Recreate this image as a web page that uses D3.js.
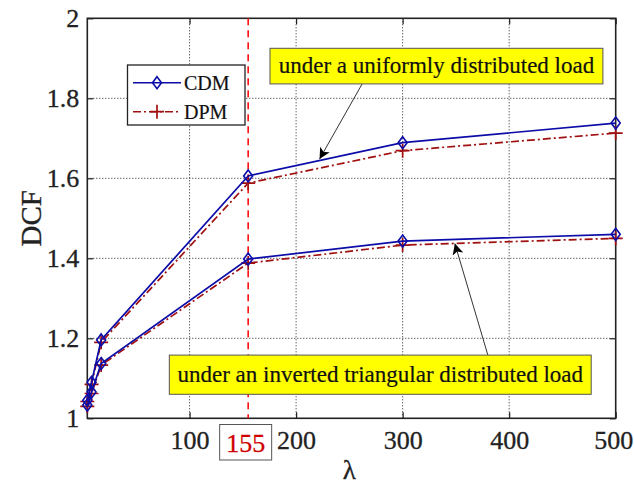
<!DOCTYPE html>
<html><head><meta charset="utf-8">
<script src="https://cdn.jsdelivr.net/npm/d3@7"></script>
<style>body{margin:0;background:#fff}svg{display:block}text{font-family:"Liberation Serif","Times New Roman",serif}</style>
</head><body><svg id="c" width="634" height="487"></svg>
<script>
const lambdas = [4, 8, 17, 155, 300, 500];
const cdmUniform = [1.045, 1.09, 1.196, 1.606, 1.689, 1.738];
const dpmUniform = [1.042, 1.085, 1.19, 1.588, 1.669, 1.713];
const cdmTriangular = [1.033, 1.066, 1.137, 1.398, 1.443, 1.46];
const dpmTriangular = [1.03, 1.062, 1.133, 1.388, 1.433, 1.45];
const xTicks = [100, 200, 300, 400, 500];
const yTicks = [1, 1.2, 1.4, 1.6, 1.8, 2];
const markLambda = 155;
const seriesNames = ["CDM", "DPM"];
const noteTexts = ["under a uniformly distributed load", "under an inverted triangular distributed load"];

const svg = d3.select("#c");
const L = 87.3, R = 615.7, T = 18.3, B = 418.3;
const x = d3.scaleLinear().domain([4, 500]).range([L, R]);
const y = d3.scaleLinear().domain([1, 2]).range([B, T]);
const blue = "#0c0ca8", red = "#a01010";

// grid
svg.append("g").selectAll("line").data(xTicks.filter(d => d < 500)).join("line")
  .attr("x1", d => x(d)).attr("x2", d => x(d)).attr("y1", T).attr("y2", B)
  .attr("stroke", "#222").attr("stroke-width", 1).attr("stroke-dasharray", "1,2");
svg.append("g").selectAll("line").data(yTicks.filter(d => d > 1 && d < 2)).join("line")
  .attr("x1", L).attr("x2", R).attr("y1", d => y(d)).attr("y2", d => y(d))
  .attr("stroke", "#222").attr("stroke-width", 1).attr("stroke-dasharray", "1,2");

// axes
const xa = svg.append("g").attr("transform", `translate(0,${B})`)
  .call(d3.axisBottom(x).tickValues(xTicks).tickSize(-6).tickPadding(14).tickFormat(d3.format("d")));
const xa2 = svg.append("g").attr("transform", `translate(0,${T})`)
  .call(d3.axisTop(x).tickValues(xTicks).tickSize(-6).tickFormat(""));
const ya = svg.append("g").attr("transform", `translate(${L},0)`)
  .call(d3.axisLeft(y).tickValues(yTicks).tickSize(-6).tickPadding(8).tickFormat(d => d3.format("")(d)));
const ya2 = svg.append("g").attr("transform", `translate(${R},0)`)
  .call(d3.axisRight(y).tickValues(yTicks).tickSize(-6).tickFormat(""));
[xa, xa2, ya, ya2].forEach(g => {
  g.attr("font-family", null).attr("font-size", null);
  g.select(".domain").remove();
  g.selectAll("line").attr("stroke", "#222").attr("stroke-width", 1.2);
  g.selectAll("text").attr("font-size", 26).attr("fill", "#222")
    .attr("stroke", "#222").attr("stroke-width", 0.3);
});
xa.selectAll("text").attr("dy", "0.65em");
xa.selectAll(".tick").filter(d => d === 500).select("text").attr("text-anchor", "end").attr("x", 17);
svg.append("rect").attr("x", L).attr("y", T).attr("width", R - L).attr("height", B - T)
  .attr("fill", "none").attr("stroke", "#222").attr("stroke-width", 1.6);

// red dashed marker line
svg.append("line").attr("x1", x(markLambda)).attr("x2", x(markLambda)).attr("y1", T).attr("y2", B)
  .attr("stroke", "#ff1010").attr("stroke-width", 1.6).attr("stroke-dasharray", "7,5");
// 155 label in box
const lb = svg.append("g");
lb.append("rect").attr("x", x(markLambda) - 28.5).attr("y", 424.5).attr("width", 52).attr("height", 35.5)
  .attr("fill", "#fff").attr("stroke", "#555").attr("stroke-width", 1);
lb.append("text").attr("x", x(markLambda) - 2.5).attr("y", 452).attr("text-anchor", "middle")
  .attr("font-size", 26).attr("fill", "#d00000").attr("stroke", "#d00000").attr("stroke-width", 0.3).text(markLambda);

// axis labels
svg.append("text").attr("x", x(250)).attr("y", 479).attr("text-anchor", "middle")
  .attr("font-size", 27).attr("fill", "#222").attr("stroke", "#222").attr("stroke-width", 0.3).text("λ");
svg.append("text").attr("transform", `translate(41,${y(1.5)}) rotate(-90)`).attr("text-anchor", "middle")
  .attr("font-size", 29).attr("fill", "#222").attr("stroke", "#222").attr("stroke-width", 0.3).text("DCF");

// series
const line = d3.line().x((d, i) => x(lambdas[i])).y(d => y(d));
function drawSeries(vals, color, dash, marker) {
  svg.append("path").datum(vals).attr("d", line).attr("fill", "none")
    .attr("stroke", color).attr("stroke-width", 1.7).attr("stroke-dasharray", dash);
  const g = svg.append("g");
  vals.forEach((v, i) => drawMarker(g, x(lambdas[i]), y(v), color, marker));
}
function drawMarker(g, cx, cy, color, marker) {
  if (marker === "diamond") {
    g.append("path").attr("d", `M${cx},${cy - 6}L${cx + 4.5},${cy}L${cx},${cy + 6}L${cx - 4.5},${cy}Z`)
      .attr("fill", "none").attr("stroke", color).attr("stroke-width", 1.6);
  } else {
    g.append("path").attr("d", `M${cx - 7},${cy}H${cx + 7}M${cx},${cy - 7}V${cy + 7}`)
      .attr("fill", "none").attr("stroke", color).attr("stroke-width", 1.7);
  }
}
drawSeries(dpmUniform, red, "8,3,2,3", "plus");
drawSeries(dpmTriangular, red, "8,3,2,3", "plus");
drawSeries(cdmUniform, blue, null, "diamond");
drawSeries(cdmTriangular, blue, null, "diamond");

// legend
const lg = svg.append("g");
lg.append("rect").attr("x", 127.5).attr("y", 65).attr("width", 117.5).attr("height", 60)
  .attr("fill", "#fff").attr("stroke", "#222").attr("stroke-width", 1.3);
[[blue, null, "diamond", 82.7], [red, "8,3,2,3", "plus", 111.7]].forEach((s, i) => {
  lg.append("line").attr("x1", 133).attr("x2", 181).attr("y1", s[3]).attr("y2", s[3])
    .attr("stroke", s[0]).attr("stroke-width", 1.6).attr("stroke-dasharray", s[1]);
  drawMarker(lg, 157, s[3], s[0], s[2]);
  lg.append("text").attr("x", 184).attr("y", s[3] + 7).attr("font-size", 20).attr("fill", "#111")
    .attr("stroke", "#111").attr("stroke-width", 0.2).text(seriesNames[i]);
});

// annotations
const defs = svg.append("defs");
defs.append("marker").attr("id", "ah").attr("viewBox", "0 0 10 10").attr("refX", 10).attr("refY", 5)
  .attr("markerWidth", 13).attr("markerHeight", 11).attr("markerUnits", "userSpaceOnUse").attr("orient", "auto")
  .append("path").attr("d", "M0,0L10,5L0,10L2.5,5Z").attr("fill", "#000");
function arrow(x1, y1, x2, y2) {
  svg.append("line").attr("x1", x(x1)).attr("y1", y(y1)).attr("x2", x(x2)).attr("y2", y(y2))
    .attr("stroke", "#333").attr("stroke-width", 1).attr("marker-end", "url(#ah)");
}
arrow(262, 1.836, 222, 1.648);
arrow(382, 1.14, 349, 1.437);
function note(x0, x1, y0, y1, txt) {
  svg.append("rect").attr("x", x(x0)).attr("y", y(y0)).attr("width", x(x1) - x(x0)).attr("height", y(y1) - y(y0))
    .attr("fill", "#ffff00").attr("stroke", "#555").attr("stroke-width", 1);
  svg.append("text").attr("x", (x(x0) + x(x1)) / 2).attr("y", (y(y0) + y(y1)) / 2 + 7)
    .attr("text-anchor", "middle").attr("font-size", 23).attr("fill", "#111")
    .attr("stroke", "#111").attr("stroke-width", 0.2).text(txt);
}
note(175.5, 488, 1.925, 1.836, noteTexts[0]);
note(81, 477, 1.158, 1.06, noteTexts[1]);
</script></body></html>
